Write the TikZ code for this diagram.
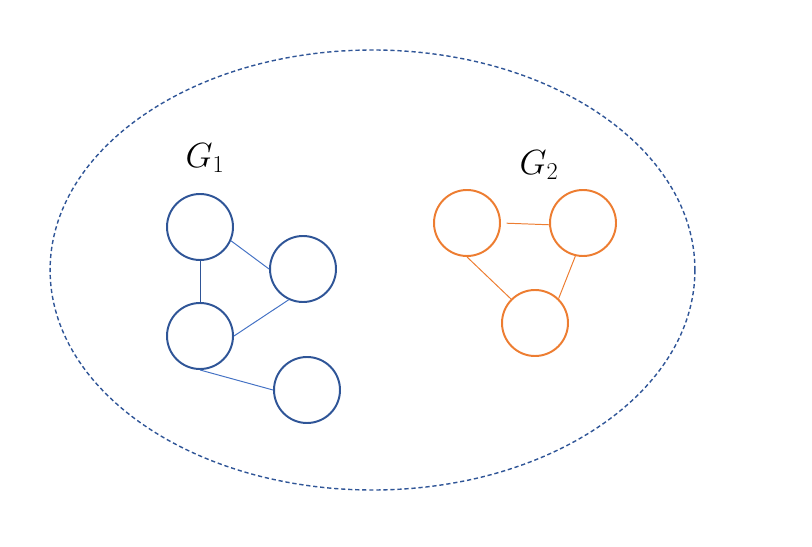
\documentclass[tikz,border=0pt]{standalone}
\usepackage{amsmath, amssymb}
\usepackage{tikz}
\usetikzlibrary{calc,shapes}
\definecolor{darkblue}{HTML}{2F5597}
\definecolor{lightblue}{HTML}{4472C4}
\definecolor{myorange}{HTML}{ED7D31}
\tikzstyle{every picture}=[->,>=latex]
\tikzstyle{bluevert}=[circle, draw=darkblue, line width=1.4pt, minimum size=1.65cm, inner sep=0pt]
\tikzstyle{orangevert}=[circle, draw=myorange, line width=1.4pt, minimum size=1.65cm, inner sep=0pt]
\tikzstyle{blueedge}=[-, draw=lightblue, line width=0.7pt]
\tikzstyle{orangeedge}=[-, draw=myorange, line width=0.7pt]

\begin{document}
\begin{tikzpicture}
\useasboundingbox (0,0) rectangle (20.3,13.65);
 % the dashed set round both graphs
 \draw[-, darkblue, line width=1pt, dash pattern=on 3pt off 2pt] (9.3125,6.9) ellipse (8.06cm and 5.5cm);
 \node (g1) at (5.125,9.7) {\fontsize{24}{28}\selectfont $G_1$};
 \node (g2) at (13.475,9.525) {\fontsize{24}{28}\selectfont $G_2$};
 % first graph
 \node[bluevert] (v1) at (5.0,7.975) {};
 \node[bluevert] (v2) at (7.575,6.925) {};
 \node[bluevert] (v3) at (5.0,5.25) {};
 \node[bluevert] (v4) at (7.675,3.9) {};
 \draw[blueedge, draw=darkblue](v1.south) -- (v3.north);
 \draw[blueedge](v1.-24) -- (v2.180);
 \draw[blueedge](v3.east) -- (v2.245);
 \draw[blueedge](v3.south) -- (v4.west);
 % second graph
 \node[orangevert] (w1) at (11.675,8.075) {};
 \node[orangevert] (w2) at (14.575,8.075) {};
 \node[orangevert] (w3) at (13.375,5.575) {};
 \draw[orangeedge, shorten <=4pt](w1.east) -- (w2.183);
 \draw[orangeedge](w1.south) -- (w3.135);
 \draw[orangeedge](w2.257) -- (w3.46);
 \end{tikzpicture}
\end{document}
